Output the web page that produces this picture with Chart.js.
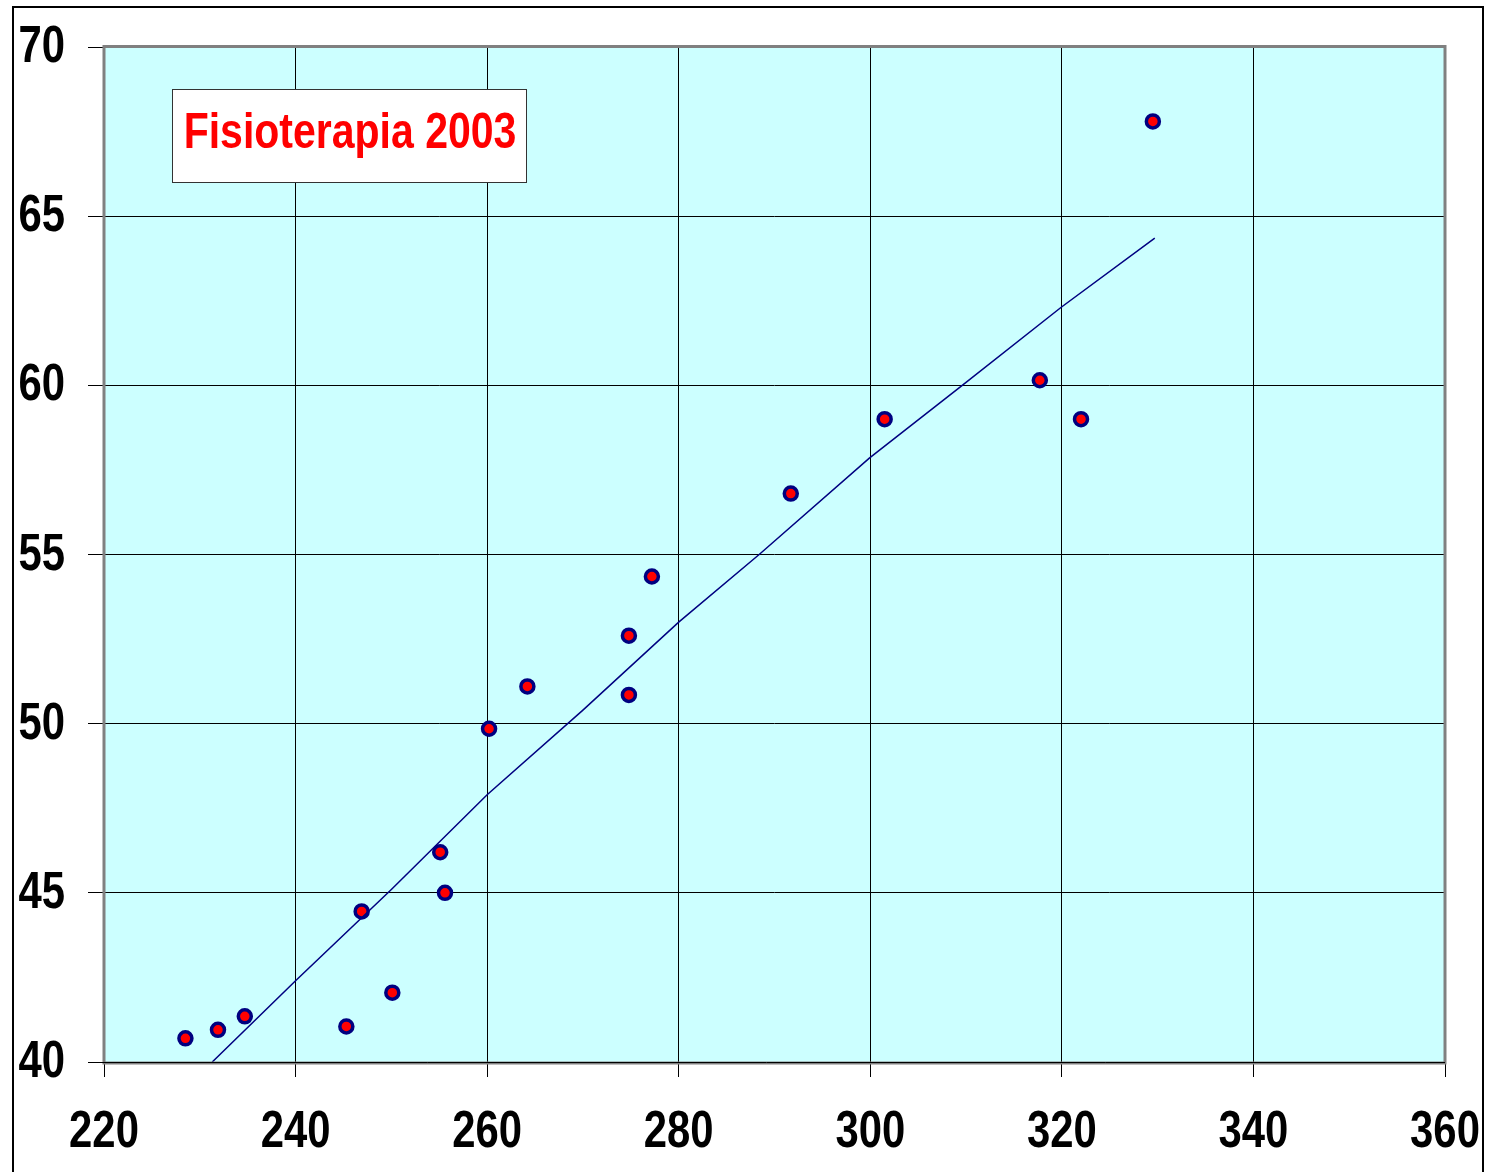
<!DOCTYPE html>
<html>
<head>
<meta charset="utf-8">
<script src="https://cdn.jsdelivr.net/npm/chart.js@4"></script>
<style>
  html, body { margin: 0; padding: 0; background: #fff; overflow: hidden; }
  #chart { position: absolute; left: 0; top: 0; }
</style>
</head>
<body>
<canvas id="chart" width="1492" height="1172"></canvas>
<script>
// measured points (x = 220..360, y = 40..70)
const physioX = [228.5, 231.9, 234.7, 245.3, 246.9, 250.1, 255.1, 255.6, 260.2, 264.2, 274.8, 274.8, 277.2, 291.7, 301.5, 317.7, 322.0, 329.5];
const physioY = [40.7, 40.95, 41.35, 41.05, 44.45, 42.05, 46.2, 45.0, 49.85, 51.1, 52.6, 50.85, 54.35, 56.8, 59.0, 60.15, 59.0, 67.8];

// trend line
const trendX = [231.3, 240.0, 250.0, 260.0, 270.0, 280.0, 288.4, 299.9, 309.6, 319.9, 329.7];
const trendY = [40.0, 42.4, 45.1, 47.9, 50.4, 53.0, 55.0, 57.85, 60.0, 62.3, 64.35];

const xTicks = [220, 240, 260, 280, 300, 320, 340, 360];
const yTicks = [40, 45, 50, 55, 60, 65, 70];
const titleText = 'Fisioterapia 2003';

// no narrow font installed, so squeeze Liberation Sans Bold by hand
const NARROW = 0.82;
const FONT = "bold 51px 'Liberation Sans', Arial, sans-serif";

function narrowText(ctx, text, x, y, align) {
  ctx.save();
  ctx.translate(x, y);
  ctx.scale(NARROW, 1);
  ctx.textAlign = align;
  ctx.textBaseline = 'middle';
  ctx.fillText(text, 0, 0);
  ctx.restore();
}

const framePlugin = {
  id: 'frame',
  beforeDraw(chart) {
    const { ctx, chartArea: a } = chart;
    ctx.save();
    ctx.fillStyle = '#fff';
    ctx.fillRect(0, 0, chart.width, chart.height);
    // outer frame
    ctx.strokeStyle = '#000';
    ctx.lineWidth = 2;
    ctx.strokeRect(13, 7, 1470, 1200);
    // plot area
    ctx.fillStyle = '#CCFFFF';
    ctx.fillRect(a.left, a.top, a.right - a.left, a.bottom - a.top);
    ctx.restore();
  },
  afterDraw(chart) {
    const { ctx, chartArea: a, scales } = chart;
    ctx.save();
    ctx.strokeStyle = '#808080';
    ctx.lineWidth = 3;
    ctx.strokeRect(a.left, a.top - 0.5, a.right - a.left, a.bottom - a.top + 1.5);
    ctx.strokeStyle = '#000';
    ctx.lineWidth = 1;
    ctx.beginPath();
    ctx.moveTo(a.left - 16, a.bottom + 0.5);
    ctx.lineTo(a.right, a.bottom + 0.5);
    ctx.stroke();

    // tick labels
    ctx.fillStyle = '#000';
    ctx.font = FONT;
    xTicks.forEach(v => narrowText(ctx, String(v), scales.x.getPixelForValue(v), a.bottom + 71, 'center'));
    yTicks.forEach(v => narrowText(ctx, String(v), 65, scales.y.getPixelForValue(v) + 1, 'right'));

    // title box
    ctx.fillStyle = '#fff';
    ctx.fillRect(172, 89, 354, 93);
    ctx.strokeStyle = '#333';
    ctx.lineWidth = 1;
    ctx.strokeRect(172.5, 89.5, 354, 93);
    ctx.fillStyle = '#FF0000';
    ctx.font = "bold 50px 'Liberation Sans', Arial, sans-serif";
    narrowText(ctx, titleText, 350, 134, 'center');
    ctx.restore();
  }
};

new Chart(document.getElementById('chart'), {
  type: 'scatter',
  data: {
    datasets: [
      {
        label: 'trend',
        data: trendX.map((x, i) => ({ x, y: trendY[i] })),
        showLine: true,
        borderColor: '#000080',
        borderWidth: 1.5,
        pointRadius: 0,
        tension: 0,
        fill: false,
      },
      {
        label: titleText,
        data: physioX.map((x, i) => ({ x, y: physioY[i] })),
        backgroundColor: '#FF0000',
        borderColor: '#000080',
        borderWidth: 3.5,
        pointRadius: 6.5,
      },
    ],
  },
  options: {
    responsive: false,
    animation: false,
    devicePixelRatio: 1,
    layout: { padding: { left: 0, right: 47, top: 47, bottom: 0 } },
    plugins: { legend: { display: false }, tooltip: { enabled: false } },
    scales: {
      x: {
        type: 'linear',
        min: 220, max: 360,
        afterBuildTicks: (s) => { s.ticks = xTicks.map(v => ({ value: v })); },
        afterFit: (s) => { s.height = 110; },
        grid: { color: '#000', lineWidth: 1, tickLength: 15, drawTicks: true },
        border: { display: false },
        ticks: { color: 'rgba(0,0,0,0)', font: { size: 20 }, maxRotation: 0, autoSkip: false },
      },
      y: {
        type: 'linear',
        min: 40, max: 70,
        afterBuildTicks: (s) => { s.ticks = yTicks.map(v => ({ value: v })); },
        afterFit: (s) => { s.width = 104; },
        grid: { color: '#000', lineWidth: 1, tickLength: 16, drawTicks: true },
        border: { display: false },
        ticks: { color: 'rgba(0,0,0,0)', font: { size: 20 }, autoSkip: false },
      },
    },
  },
  plugins: [framePlugin],
});
</script>
</body>
</html>
